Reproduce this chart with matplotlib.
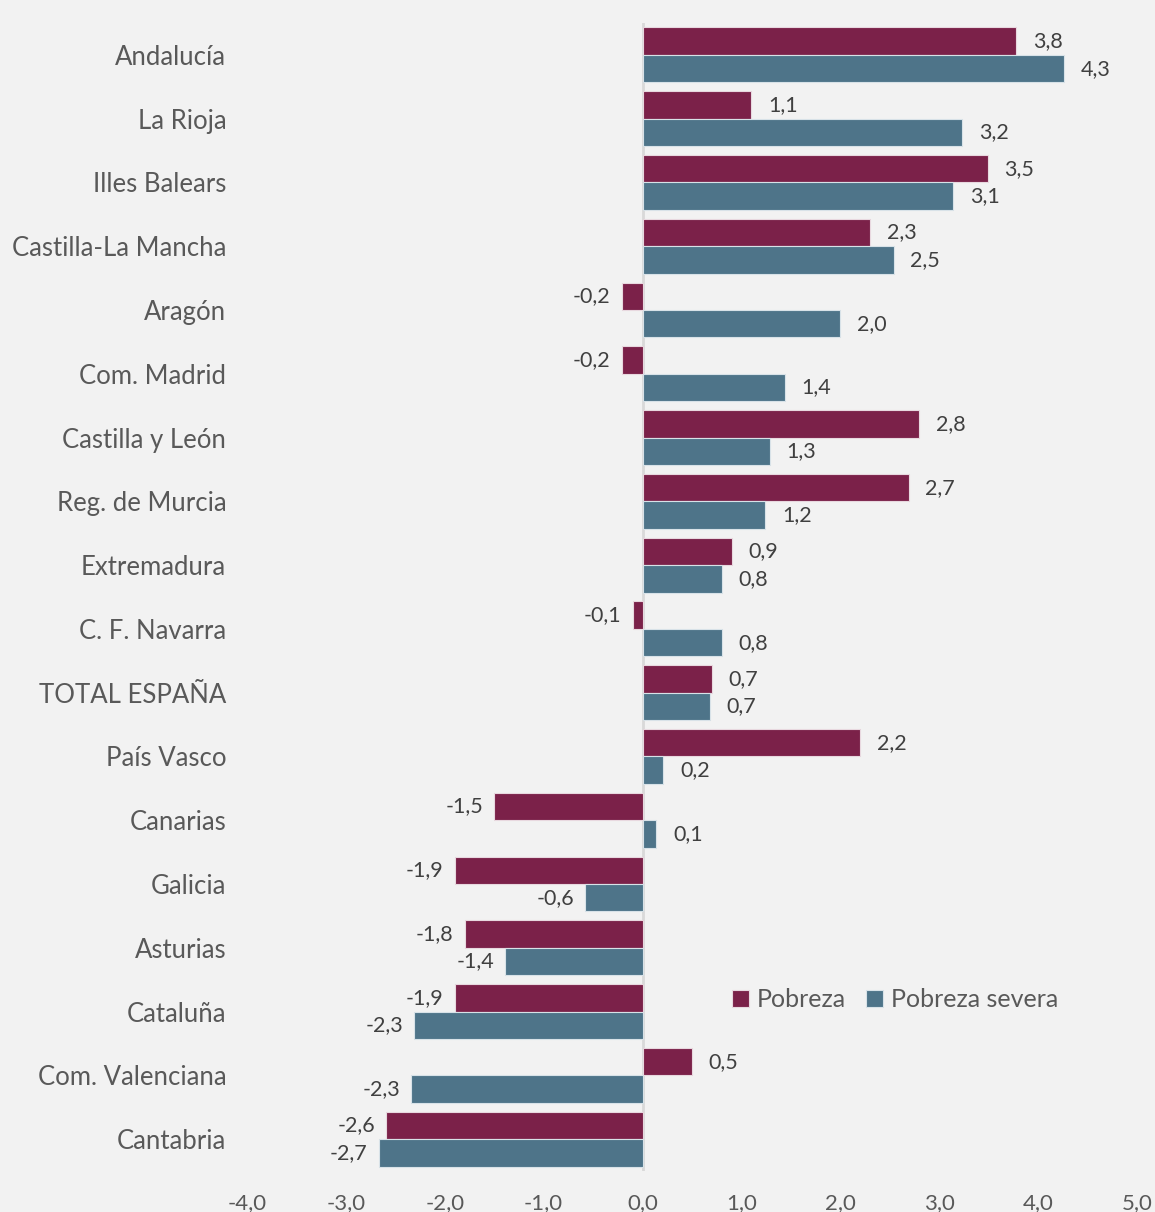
import matplotlib
matplotlib.use("Agg")
import matplotlib.pyplot as plt
import numpy as np
from matplotlib import font_manager

categories = ["Andalucía", "La Rioja", "Illes Balears", "Castilla-La Mancha", "Aragón",
              "Com. Madrid", "Castilla y León", "Reg. de Murcia", "Extremadura",
              "C. F. Navarra", "TOTAL ESPAÑA", "País Vasco", "Canarias", "Galicia",
              "Asturias", "Cataluña", "Com. Valenciana", "Cantabria"]
pobreza = [3.78, 1.10, 3.49, 2.30, -0.21, -0.21, 2.80, 2.69, 0.90, -0.10, 0.70, 2.20,
           -1.50, -1.90, -1.80, -1.90, 0.50, -2.59]
pobreza_severa = [4.26, 3.23, 3.14, 2.54, 2.00, 1.44, 1.29, 1.24, 0.80, 0.80, 0.68, 0.21,
                  0.14, -0.58, -1.39, -2.31, -2.34, -2.67]
series_names = ["Pobreza", "Pobreza severa"]
xticks = [-4, -3, -2, -1, 0, 1, 2, 3, 4, 5]

RED = "#7b2149"
BLUE = "#4e7489"
BG = "#f2f2f2"
TXT = "#595959"
LBL = "#404040"

avail = {f.name for f in font_manager.fontManager.ttflist}
main_font = "Lato" if "Lato" in avail else "DejaVu Sans"
narrow = "Liberation Sans Narrow" if "Liberation Sans Narrow" in avail else main_font

fig = plt.figure(figsize=(11.55, 12.12), dpi=100, facecolor=BG)
ax = fig.add_axes([247/1155, 1 - 1171/1212, 890/1155, 1148/1212])
ax.set_facecolor(BG)

n = len(categories)
y = np.arange(n)
h = 0.43
ax.barh(y - h/2, pobreza, height=h, color=RED, edgecolor="#e8d8df", linewidth=0.8,
        label=series_names[0], zorder=2)
ax.barh(y + h/2, pobreza_severa, height=h, color=BLUE, edgecolor="#d8e2e8", linewidth=0.8,
        label=series_names[1], zorder=2)

ax.set_xlim(-4, 5)
ax.set_ylim(n - 0.5, -0.5)
ax.axvline(0, color="#d9d9d9", lw=2, zorder=1)

def fmt(v):
    return f"{v:.1f}".replace(".", ",")

for vals, off in ((pobreza, -h/2), (pobreza_severa, h/2)):
    for i, v in enumerate(vals):
        if v >= 0:
            ax.annotate(fmt(v), (v, i + off), xytext=(12, 0), textcoords="offset points",
                        ha="left", va="center", fontsize=15.5, color=LBL, family=main_font)
        else:
            ax.annotate(fmt(v), (v, i + off), xytext=(-8, 0), textcoords="offset points",
                        ha="right", va="center", fontsize=15.5, color=LBL, family=main_font)

ax.set_yticks(y)
ax.set_yticklabels(categories, fontsize=18.5, color=TXT, family=main_font)
ax.set_xticks(xticks)
ax.set_xticklabels([f"{t:.1f}".replace(".", ",") for t in xticks], fontsize=16,
                   color=TXT, family=narrow)
ax.tick_params(axis="y", length=0, pad=15)
ax.tick_params(axis="x", length=0, pad=16)
for s in ax.spines.values():
    s.set_visible(False)

leg = ax.legend(loc="center", bbox_to_anchor=(0.728, 0.149), ncol=2, frameon=False,
                prop={"family": main_font, "size": 18}, handlelength=0.7, handleheight=0.7,
                handletextpad=0.3, columnspacing=0.8, labelcolor=TXT)

fig.savefig("out.png", dpi=100, facecolor=BG)
